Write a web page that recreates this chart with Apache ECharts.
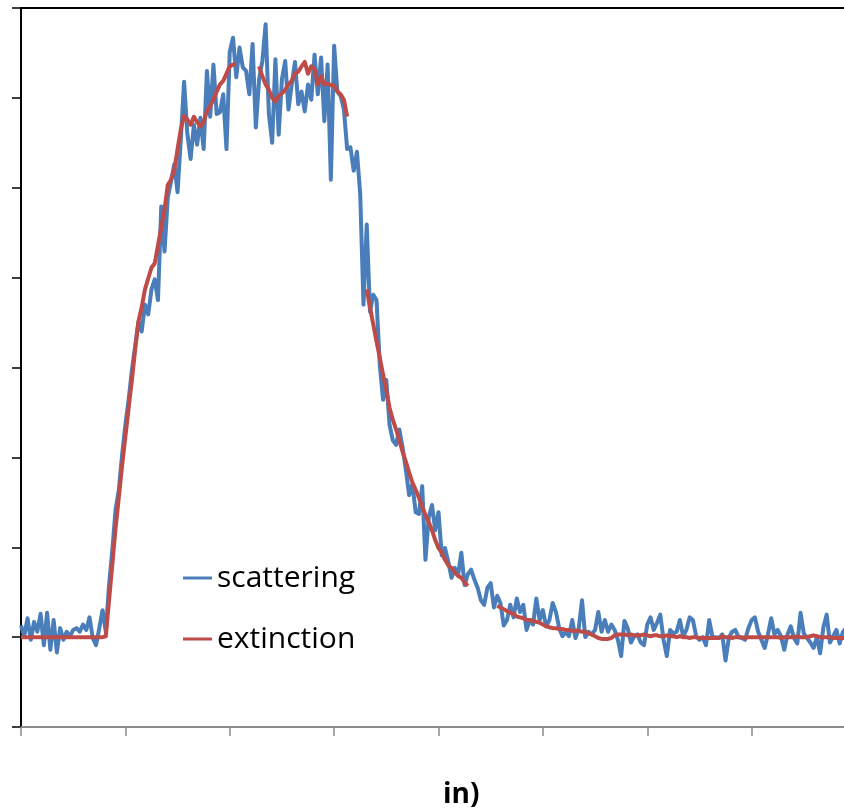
<!DOCTYPE html>
<html><head><meta charset="utf-8">
<script src="https://cdn.jsdelivr.net/npm/echarts@6/dist/echarts.min.js"></script>
<style>html,body{margin:0;padding:0;background:#fff}#c{width:844px;height:809px}</style>
</head><body><div id="c"></div>
<script>
// sampling step of the measurement (x-axis units per sample)
const timeStep = 0.3125;
const xMin = 0, xMax = 80, xInterval = 10;
const yMin = -1, yMax = 7, yInterval = 1;
const seriesNames = ['scattering', 'extinction'];
const axisName = 'in)';

const scattering = [
 0.13, 0.01, 0.21, -0.03, 0.17, 0.06, 0.26, -0.09, 0.27, -0.14,
 0.19, -0.17, 0.10, -0.03, 0.06, 0.01, 0.08, 0.10, 0.06, 0.14,
 0.08, 0.22, -0.01, -0.09, 0.10, 0.30, 0.06, 0.58, 0.97, 1.42,
 1.64, 2.03, 2.36, 2.64, 2.97, 3.24, 3.51, 3.40, 3.70, 3.59,
 3.87, 3.98, 3.75, 4.79, 4.29, 4.89, 5.07, 5.26, 4.95, 5.54,
 6.18, 5.60, 5.32, 5.70, 5.48, 5.78, 5.43, 6.30, 5.79, 6.37,
 5.82, 5.84, 6.04, 5.43, 6.51, 6.67, 6.23, 6.56, 6.34, 6.30,
 6.04, 6.60, 5.67, 6.21, 6.41, 6.82, 5.82, 5.50, 6.43, 5.59,
 6.21, 6.41, 5.87, 6.15, 6.40, 5.93, 6.07, 5.85, 6.15, 5.98,
 6.48, 6.04, 6.45, 5.74, 6.37, 5.09, 6.58, 6.07, 6.02, 5.87,
 5.43, 5.45, 5.19, 5.40, 4.93, 3.70, 4.59, 3.62, 3.81, 3.75,
 3.03, 2.64, 2.86, 2.36, 2.19, 2.14, 2.31, 2.11, 1.86, 1.58,
 1.70, 1.39, 1.37, 1.68, 0.86, 1.33, 1.47, 1.19, 1.39, 0.91,
 0.99, 0.84, 0.66, 0.77, 0.69, 0.94, 0.58, 0.70, 0.75, 0.64,
 0.55, 0.41, 0.36, 0.55, 0.60, 0.33, 0.46, 0.38, 0.13, 0.19,
 0.36, 0.22, 0.43, 0.28, 0.36, 0.08, 0.19, 0.14, 0.43, 0.19,
 0.30, 0.12, 0.19, 0.38, 0.28, 0.10, 0.01, 0.06, 0.01, 0.19,
 -0.01, 0.10, 0.41, 0.00, 0.06, 0.03, 0.08, 0.28, 0.06, 0.19,
 0.06, 0.14, 0.08, -0.03, -0.21, 0.18, 0.10, -0.06, 0.01, 0.03,
 -0.06, -0.09, 0.14, 0.22, 0.08, 0.16, 0.25, -0.03, -0.21, 0.08,
 0.04, 0.06, 0.19, 0.01, 0.08, 0.22, 0.19, 0.01, -0.03, 0.00,
 -0.09, 0.19, 0.00, 0.00, -0.01, 0.03, -0.26, -0.01, 0.06, 0.08,
 0.00, -0.01, -0.03, 0.10, 0.19, 0.22, 0.06, -0.03, -0.12, 0.03,
 0.21, 0.03, 0.08, 0.01, -0.14, 0.03, 0.12, -0.01, -0.07, 0.27,
 0.04, -0.01, -0.06, -0.12, 0.00, -0.18, 0.11, 0.25, -0.06, 0.01,
 0.08, -0.07, 0.06, 0.10
];

const extinction = [
 0, 0, 0, 0, 0, 0, 0, 0, 0, 0,
 0, 0, 0, 0, 0, 0, 0, 0, 0, 0,
 0, 0, 0, 0, 0, 0, 0.01, 0.41, 0.81, 1.21,
 1.56, 1.91, 2.23, 2.55, 2.86, 3.20, 3.51, 3.67, 3.87, 3.99,
 4.11, 4.16, 4.36, 4.56, 4.76, 5.03, 5.09, 5.20, 5.43, 5.65,
 5.80, 5.76, 5.70, 5.79, 5.73, 5.68, 5.73, 5.85, 5.91, 5.98,
 6.07, 6.15, 6.19, 6.27, 6.35, 6.37, 6.37, null, null, null,
 null, null, null, 6.35, 6.24, 6.15, 6.09, 6.00, 5.96, 6.02,
 6.05, 6.09, 6.15, 6.19, 6.27, 6.29, 6.35, 6.40, 6.27, 6.35,
 6.32, 6.15, 6.24, 6.15, 6.16, 6.14, 6.14, 6.07, 6.04, 5.98,
 5.79, null, null, null, null, null, 3.87, 3.67, 3.48, 3.29,
 3.11, 2.92, 2.75, 2.55, 2.42, 2.31, 2.19, 2.06, 1.95, 1.83,
 1.72, 1.64, 1.55, 1.45, 1.36, 1.28, 1.19, 1.08, 0.99, 0.94,
 0.86, 0.80, 0.77, 0.72, 0.68, 0.66, 0.61, 0.57, null, null,
 null, null, null, null, null, null, 0.35, 0.33, 0.31, 0.29,
 0.27, 0.26, 0.23, 0.22, 0.21, 0.19, 0.19, 0.18, 0.17, 0.16,
 0.14, 0.12, 0.11, 0.10, 0.10, 0.09, 0.09, 0.08, 0.08, 0.07,
 0.07, 0.07, 0.06, 0.06, 0.04, 0.03, 0.01, -0.01, -0.02, -0.02,
 -0.02, -0.01, 0.02, 0.03, 0.03, 0.03, 0.02, 0.03, 0.02, 0.02,
 0.02, 0.03, 0.02, 0.01, 0.02, 0.02, 0.01, 0.01, 0.02, 0.01,
 0.01, 0.00, 0.01, 0.00, 0.00, -0.01, 0.00, 0.00, -0.01, -0.01,
 -0.01, -0.01, -0.01, -0.01, -0.01, 0.01, 0.00, 0.00, -0.01, 0.00,
 0.00, 0.00, -0.01, 0.00, 0.00, 0.00, 0.00, 0.00, 0.00, 0.00,
 0.00, 0.00, 0.00, -0.01, 0.00, 0.00, 0.00, 0.00, 0.01, 0.00,
 0.00, 0.00, 0.01, 0.02, 0.01, 0.00, 0.00, 0.00, 0.00, -0.01,
 -0.01, -0.01, -0.01, -0.01
];

const toPairs = arr => arr.map((v, i) => [i * timeStep, v]);

const chart = echarts.init(document.getElementById('c'), null, {renderer: 'canvas'});
chart.setOption({
  animation: false,
  backgroundColor: '#ffffff',
  grid: {left: 21, top: 8, width: 835, height: 719, containLabel: false, outerBoundsMode: 'none'},
  legend: {
    orient: 'vertical', left: 183, top: 560, padding: 0,
    icon: 'rect', itemWidth: 29, itemHeight: 3, itemGap: 25,
    data: seriesNames,
    textStyle: {fontFamily: 'Open Sans', fontSize: 30, color: '#000', lineHeight: 36}
  },
  xAxis: [{
    type: 'value', min: xMin, max: xMax, interval: xInterval, position: 'bottom',
    axisLine: {show: true, onZero: false, lineStyle: {color: '#8c8c8c', width: 2}},
    axisTick: {show: true, length: 9, lineStyle: {color: '#8c8c8c', width: 1.5}},
    axisLabel: {show: false}, splitLine: {show: false}
  }, {
    type: 'value', min: xMin, max: xMax, position: 'top',
    axisLine: {show: true, onZero: false, lineStyle: {color: '#000', width: 2}},
    axisTick: {show: false}, axisLabel: {show: false}, splitLine: {show: false}
  }],
  yAxis: {
    type: 'value', min: yMin, max: yMax, interval: yInterval,
    axisLine: {show: true, onZero: false, lineStyle: {color: '#000', width: 2}},
    axisTick: {show: true, length: 9, lineStyle: {color: '#000', width: 1.5}},
    axisLabel: {show: false}, splitLine: {show: false}
  },
  graphic: [{
    type: 'text', left: 443, top: 781,
    style: {text: axisName, font: 'bold 28px "Open Sans"', fill: '#000'}
  }],
  series: [{
    name: seriesNames[0], type: 'line', data: toPairs(scattering),
    symbol: 'none', showSymbol: false, connectNulls: false,
    lineStyle: {color: '#4A7EBB', width: 4, join: 'round'}, itemStyle: {color: '#4A7EBB'}
  }, {
    name: seriesNames[1], type: 'line', data: toPairs(extinction),
    symbol: 'none', showSymbol: false, connectNulls: false,
    lineStyle: {color: '#BE4B48', width: 4, join: 'round'}, itemStyle: {color: '#BE4B48'}
  }]
});
</script>
</body></html>
